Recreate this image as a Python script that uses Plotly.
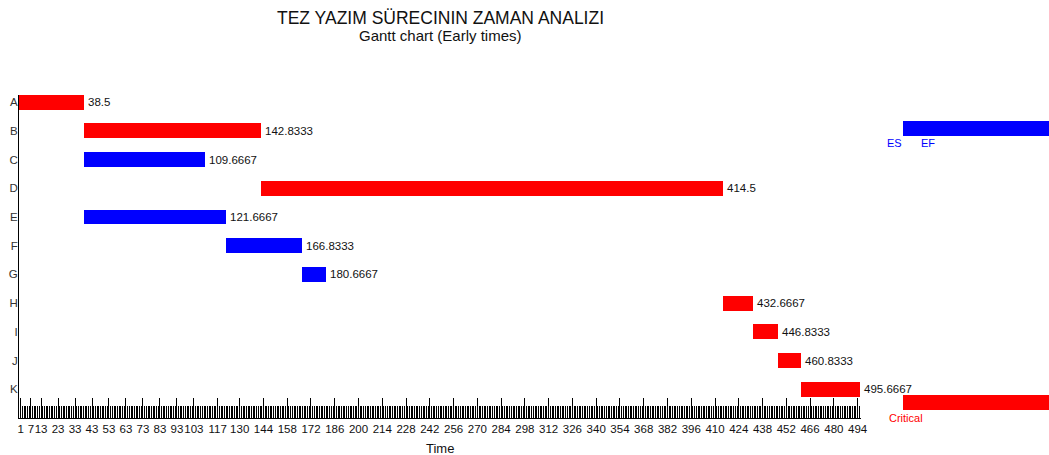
import plotly.graph_objects as go

tasks = ["A", "B", "C", "D", "E", "F", "G", "H", "I", "J", "K"]
early_start = [0, 38.5, 38.5, 142.8333, 38.5, 121.6667, 166.8333, 414.5, 432.6667, 446.8333, 460.8333]
early_finish = [38.5, 142.8333, 109.6667, 414.5, 121.6667, 166.8333, 180.6667, 432.6667, 446.8333, 460.8333, 495.6667]
critical = [True, True, False, True, False, False, False, True, True, True, True]
x_tick_values = [1, 7, 13, 23, 33, 43, 53, 63, 73, 83, 93, 103, 117, 130, 144, 158, 172, 186,
                 200, 214, 228, 242, 256, 270, 284, 298, 312, 326, 340, 354, 368, 382, 396,
                 410, 424, 438, 452, 466, 480, 494]

RED = "#ff0000"
BLUE = "#0000ff"
FONT = "Liberation Sans, Arial, sans-serif"
TXT = "#111111"

durations = [f - s for s, f in zip(early_start, early_finish)]
labels = [f"{v:.4f}".rstrip("0").rstrip(".") for v in early_finish]
colors = [RED if c else BLUE for c in critical]
ypos = list(range(len(tasks)))

L, R, T, B = 19, 188, 95, 37
PW = 1049 - L - R
PH = 455 - T - B

fig = go.Figure()
fig.add_trace(go.Bar(
    y=ypos, x=durations, base=early_start, orientation="h",
    marker=dict(color=colors, line=dict(width=0)),
    width=0.52, cliponaxis=False,
    hoverinfo="skip", showlegend=False,
))

for yi, xf, lab in zip(ypos, early_finish, labels):
    fig.add_annotation(x=xf, y=yi, xref="x", yref="y", text=lab, showarrow=False,
                       xanchor="left", yanchor="middle", xshift=2,
                       font=dict(family=FONT, size=11.5, color=TXT))

fig.update_layout(
    width=1049, height=455,
    margin=dict(l=L, r=R, t=T, b=B, autoexpand=False),
    paper_bgcolor="white", plot_bgcolor="white",
    font=dict(family=FONT, size=11.5, color=TXT),
    bargap=0,
    xaxis=dict(
        range=[0, 496], showgrid=False, zeroline=False, automargin=False,
        showline=True, linecolor="black", linewidth=1,
        tickmode="array", tickvals=x_tick_values, ticktext=[str(v) for v in x_tick_values],
        ticks="inside", ticklen=20, tickcolor="black", tickwidth=1, tickangle=0,
        tickfont=dict(family=FONT, size=11.5, color=TXT),
        minor=dict(ticks="inside", ticklen=12, tickcolor="black", tickwidth=1,
                   tickmode="linear", tick0=0, dtick=1, showgrid=False),
    ),
    yaxis=dict(
        range=[11, -0.25], showgrid=False, zeroline=False, automargin=False,
        showline=True, linecolor="black", linewidth=1,
        tickmode="array", tickvals=ypos, ticktext=tasks, ticks="",
        ticklabelstandoff=-2,
        tickfont=dict(family=FONT, size=11.5, color="#333333"),
    ),
)

def px_x(px):
    return (px - L) / PW

def px_y(py):
    return (455 - B - py) / PH

# Titles and axis title
fig.add_annotation(text="TEZ YAZIM SÜRECININ ZAMAN ANALIZI", xref="paper", yref="paper",
                   x=0.5, y=px_y(18), xanchor="center", yanchor="middle",
                   showarrow=False, font=dict(family=FONT, size=17.5, color=TXT))
fig.add_annotation(text="Gantt chart (Early times)", xref="paper", yref="paper",
                   x=0.5, y=px_y(35), xanchor="center", yanchor="middle",
                   showarrow=False, font=dict(family=FONT, size=15, color=TXT))
fig.add_annotation(text="Time", xref="paper", yref="paper",
                   x=0.5, y=px_y(448), xanchor="center", yanchor="middle",
                   showarrow=False, font=dict(family=FONT, size=13, color=TXT))

# Legend-like keys on the right
fig.add_shape(type="rect", xref="paper", yref="paper", x0=px_x(903), x1=px_x(1060),
              y0=px_y(136), y1=px_y(121), fillcolor=BLUE, line=dict(width=0))
fig.add_shape(type="rect", xref="paper", yref="paper", x0=px_x(903), x1=px_x(1060),
              y0=px_y(410), y1=px_y(395), fillcolor=RED, line=dict(width=0))
fig.add_annotation(text="ES", xref="paper", yref="paper", x=px_x(894), y=px_y(143),
                   xanchor="center", yanchor="middle", showarrow=False,
                   font=dict(family=FONT, size=11, color=BLUE))
fig.add_annotation(text="EF", xref="paper", yref="paper", x=px_x(928), y=px_y(143),
                   xanchor="center", yanchor="middle", showarrow=False,
                   font=dict(family=FONT, size=11, color=BLUE))
fig.add_annotation(text="Critical", xref="paper", yref="paper", x=px_x(887), y=px_y(418),
                   xanchor="left", yanchor="middle", showarrow=False,
                   font=dict(family=FONT, size=11, color=RED))

fig.write_html("out.html", config={"displayModeBar": False},
               post_script="document.body.style.margin='0';document.body.style.overflow='hidden';")
